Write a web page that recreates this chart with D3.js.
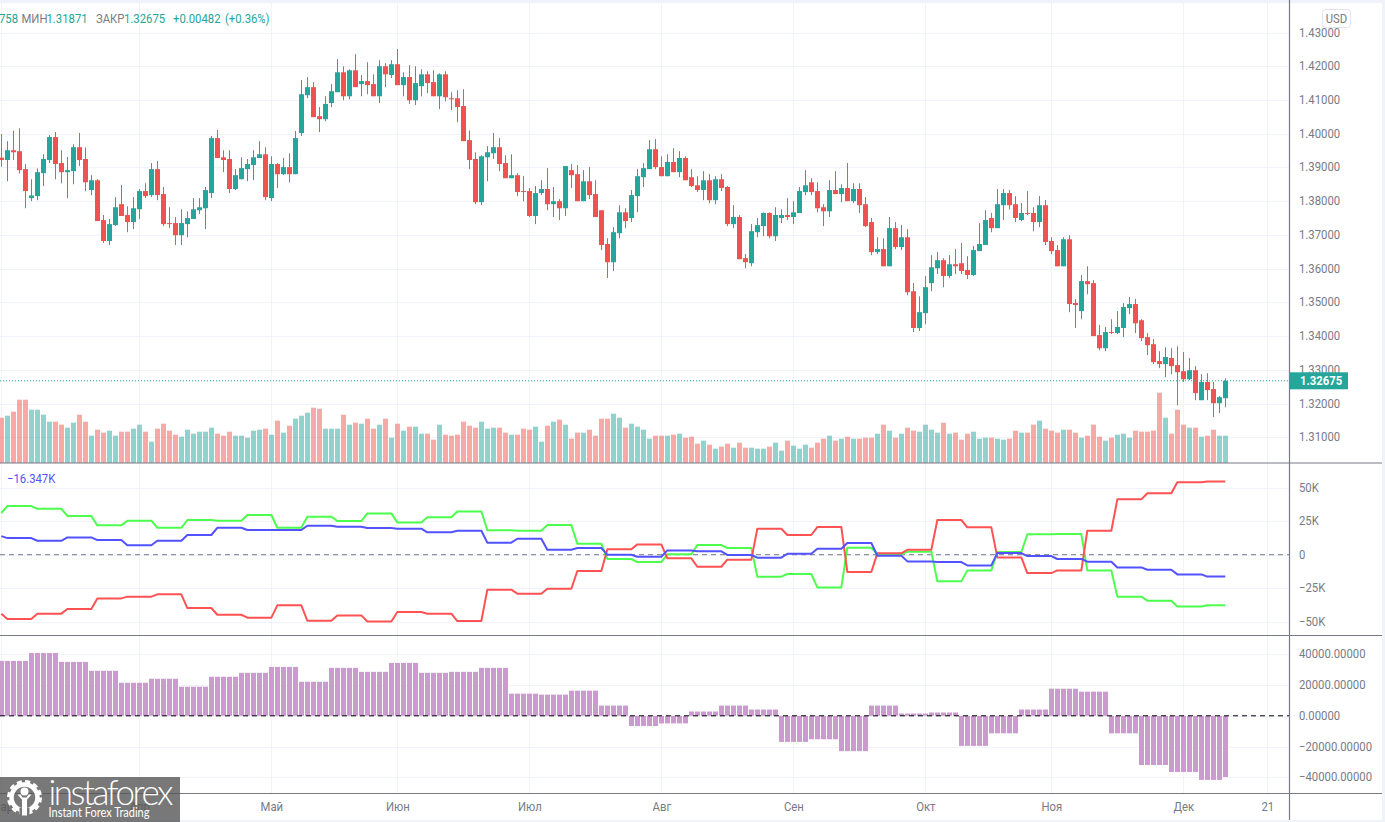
<!DOCTYPE html>
<meta charset="utf-8">
<style>
html, body { margin: 0; background: #fff; overflow: hidden; }
svg { display: block; }
text { font-family: Roboto, sans-serif; font-size: 13px; fill: #787b86; }
.axis .domain { display: none; }
.axis text { font-family: Roboto, sans-serif; font-size: 13px; fill: #787b86; }
.grid line { stroke: #f0f3fa; stroke-width: 1px; }
</style>
<svg width="1385" height="822"></svg>
<script src="https://d3js.org/d3.v7.min.js"></script>
<script>

// daily GBP/USD candles
var opens = [
1.3929,1.3922,1.3951,1.3948,1.3895,1.3809,1.3815,1.3883,1.3922,1.3990,
1.3913,1.3886,1.3889,1.3960,1.3925,1.3833,1.3862,1.3744,1.3682,1.3729,
1.3791,1.3759,1.3738,1.3776,1.3830,1.3818,1.3895,1.3821,1.3735,1.3735,
1.3699,1.3732,1.3747,1.3773,1.3779,1.3824,1.3987,1.3930,1.3925,1.3836,
1.3865,1.3895,1.3907,1.3928,1.3939,1.3809,1.3910,1.3880,1.3901,1.3880,
1.4002,1.4114,1.4138,1.4052,1.4043,1.4091,1.4123,1.4182,1.4111,1.4188,
1.4147,1.4156,1.4147,1.4111,1.4200,1.4174,1.4206,1.4144,1.4168,1.4099,
1.4141,1.4176,1.4153,1.4111,1.4176,1.4105,1.4105,1.4082,1.3981,1.3925,
1.3797,1.3930,1.3942,1.3960,1.3913,1.3868,1.3877,1.3830,1.3830,1.3756,
1.3824,1.3836,1.3791,1.3800,1.3779,1.3892,1.3880,1.3800,1.3859,1.3821,
1.3773,1.3673,1.3619,1.3705,1.3767,1.3750,1.3815,1.3871,1.3895,1.3954,
1.3901,1.3874,1.3916,1.3886,1.3928,1.3871,1.3847,1.3833,1.3862,1.3803,
1.3865,1.3842,1.3732,1.3753,1.3631,1.3616,1.3708,1.3726,1.3765,1.3696,
1.3750,1.3759,1.3753,1.3765,1.3827,1.3856,1.3830,1.3782,1.3770,1.3833,
1.3821,1.3839,1.3800,1.3836,1.3791,1.3738,1.3649,1.3658,1.3607,1.3720,
1.3664,1.3693,1.3533,1.3424,1.3468,1.3557,1.3601,1.3625,1.3578,1.3613,
1.3616,1.3596,1.3581,1.3652,1.3670,1.3750,1.3720,1.3788,1.3824,1.3791,
1.3744,1.3765,1.3765,1.3738,1.3788,1.3682,1.3655,1.3607,1.3687,1.3498,
1.3474,1.3563,1.3557,1.3403,1.3364,1.3412,1.3409,1.3424,1.3483,1.3495,
1.3447,1.3397,1.3376,1.3326,1.3317,1.3335,1.3314,1.3296,1.3272,1.3299,
1.3210,1.3264,1.3243,1.3201,1.3216];

var closes = [
1.3922,1.3951,1.3945,1.3892,1.3830,1.3817,1.3886,1.3925,1.3990,1.3910,
1.3886,1.3892,1.3960,1.3922,1.3856,1.3862,1.3741,1.3682,1.3732,1.3782,
1.3756,1.3738,1.3779,1.3830,1.3815,1.3895,1.3818,1.3732,1.3732,1.3699,
1.3735,1.3750,1.3776,1.3782,1.3833,1.3987,1.3928,1.3922,1.3836,1.3877,
1.3898,1.3910,1.3930,1.3939,1.3812,1.3910,1.3880,1.3901,1.3880,1.3987,
1.4117,1.4138,1.4049,1.4043,1.4088,1.4126,1.4182,1.4111,1.4188,1.4138,
1.4156,1.4144,1.4111,1.4200,1.4176,1.4206,1.4144,1.4168,1.4099,1.4150,
1.4176,1.4150,1.4111,1.4176,1.4108,1.4102,1.4079,1.3978,1.3922,1.3797,
1.3933,1.3945,1.3960,1.3910,1.3868,1.3877,1.3827,1.3827,1.3756,1.3824,
1.3836,1.3791,1.3800,1.3779,1.3904,1.3877,1.3800,1.3859,1.3818,1.3753,
1.3670,1.3619,1.3708,1.3767,1.3741,1.3818,1.3874,1.3898,1.3954,1.3901,
1.3874,1.3916,1.3886,1.3928,1.3862,1.3845,1.3833,1.3862,1.3803,1.3865,
1.3839,1.3732,1.3753,1.3628,1.3619,1.3711,1.3729,1.3765,1.3696,1.3759,
1.3759,1.3753,1.3767,1.3830,1.3847,1.3827,1.3779,1.3770,1.3833,1.3821,
1.3839,1.3800,1.3836,1.3788,1.3726,1.3649,1.3658,1.3607,1.3720,1.3664,
1.3693,1.3530,1.3424,1.3471,1.3545,1.3604,1.3625,1.3578,1.3613,1.3607,
1.3593,1.3581,1.3655,1.3673,1.3744,1.3720,1.3791,1.3824,1.3788,1.3750,
1.3765,1.3762,1.3738,1.3788,1.3679,1.3652,1.3607,1.3687,1.3495,1.3492,
1.3563,1.3554,1.3400,1.3364,1.3412,1.3409,1.3427,1.3486,1.3495,1.3438,
1.3394,1.3373,1.3323,1.3317,1.3338,1.3311,1.3293,1.3272,1.3299,1.3231,
1.3264,1.3240,1.3201,1.3219,1.32675];

var highs = [
1.3999,1.3978,1.4009,1.4016,1.3910,1.3865,1.3897,1.3939,1.3996,1.4005,
1.3951,1.3931,1.3969,1.4002,1.3959,1.3877,1.3865,1.3759,1.3747,1.3812,
1.3848,1.3785,1.3812,1.3836,1.3853,1.3913,1.3919,1.3842,1.3782,1.3753,
1.3776,1.3770,1.3809,1.3809,1.3842,1.3993,1.4011,1.3951,1.3951,1.3895,
1.3930,1.3925,1.3951,1.3978,1.3960,1.3933,1.3913,1.3928,1.3942,1.4008,
1.4159,1.4168,1.4153,1.4079,1.4111,1.4147,1.4221,1.4200,1.4191,1.4236,
1.4174,1.4212,1.4176,1.4218,1.4209,1.4218,1.4251,1.4182,1.4203,1.4200,
1.4191,1.4185,1.4188,1.4179,1.4185,1.4123,1.4129,1.4132,1.4010,1.3945,
1.3936,1.3963,1.4002,1.3987,1.3936,1.3939,1.3883,1.3874,1.3839,1.3845,
1.3862,1.3898,1.3842,1.3806,1.3904,1.3910,1.3907,1.3892,1.3901,1.3862,
1.3773,1.3690,1.3723,1.3788,1.3779,1.3833,1.3895,1.3913,1.3981,1.3984,
1.3933,1.3939,1.3957,1.3948,1.3933,1.3895,1.3874,1.3889,1.3880,1.3874,
1.3880,1.3845,1.3788,1.3759,1.3643,1.3732,1.3750,1.3767,1.3767,1.3782,
1.3776,1.3809,1.3800,1.3842,1.3892,1.3868,1.3856,1.3791,1.3862,1.3889,
1.3850,1.3913,1.3853,1.3853,1.3812,1.3750,1.3693,1.3690,1.3753,1.3738,
1.3729,1.3717,1.3557,1.3518,1.3578,1.3640,1.3649,1.3631,1.3640,1.3658,
1.3676,1.3637,1.3667,1.3735,1.3773,1.3765,1.3836,1.3836,1.3833,1.3815,
1.3794,1.3830,1.3782,1.3815,1.3803,1.3693,1.3670,1.3693,1.3699,1.3510,
1.3581,1.3607,1.3566,1.3433,1.3427,1.3450,1.3474,1.3498,1.3516,1.3510,
1.3450,1.3409,1.3391,1.3355,1.3367,1.3364,1.3370,1.3353,1.3335,1.3311,
1.3287,1.3290,1.3264,1.3222,1.3275];

var lows = [
1.3902,1.3859,1.3922,1.3882,1.3779,1.3800,1.3803,1.3845,1.3913,1.3865,
1.3853,1.3809,1.3850,1.3904,1.3830,1.3818,1.3741,1.3676,1.3670,1.3726,
1.3756,1.3708,1.3717,1.3747,1.3809,1.3812,1.3803,1.3726,1.3720,1.3670,
1.3670,1.3693,1.3747,1.3762,1.3717,1.3809,1.3928,1.3886,1.3824,1.3833,
1.3865,1.3859,1.3862,1.3928,1.3803,1.3800,1.3839,1.3877,1.3856,1.3880,
1.3993,1.4105,1.4049,1.4005,1.4037,1.4079,1.4123,1.4099,1.4102,1.4138,
1.4111,1.4117,1.4111,1.4091,1.4138,1.4165,1.4144,1.4111,1.4088,1.4085,
1.4111,1.4120,1.4111,1.4073,1.4096,1.4070,1.4034,1.3978,1.3895,1.3791,
1.3788,1.3859,1.3925,1.3889,1.3868,1.3868,1.3815,1.3800,1.3753,1.3732,
1.3818,1.3773,1.3753,1.3744,1.3756,1.3839,1.3800,1.3800,1.3806,1.3753,
1.3655,1.3572,1.3593,1.3690,1.3720,1.3738,1.3767,1.3842,1.3895,1.3895,
1.3874,1.3874,1.3886,1.3871,1.3862,1.3842,1.3827,1.3803,1.3794,1.3791,
1.3830,1.3726,1.3720,1.3628,1.3601,1.3607,1.3693,1.3696,1.3690,1.3682,
1.3735,1.3744,1.3732,1.3765,1.3818,1.3818,1.3767,1.3726,1.3753,1.3821,
1.3797,1.3800,1.3794,1.3765,1.3723,1.3640,1.3643,1.3607,1.3607,1.3658,
1.3655,1.3521,1.3412,1.3415,1.3435,1.3533,1.3584,1.3545,1.3572,1.3584,
1.3584,1.3569,1.3578,1.3652,1.3670,1.3708,1.3720,1.3744,1.3776,1.3738,
1.3741,1.3759,1.3711,1.3723,1.3670,1.3643,1.3607,1.3607,1.3471,1.3424,
1.3450,1.3524,1.3400,1.3358,1.3355,1.3406,1.3406,1.3397,1.3465,1.3409,
1.3385,1.3344,1.3317,1.3305,1.3278,1.3287,1.3195,1.3264,1.3270,1.3210,
1.3210,1.3210,1.3160,1.3172,1.3189];

var volumes = [
136,142,154,190,190,160,160,145,124,124,115,106,121,145,124,82,100,91,97,82,
94,94,103,115,94,64,103,118,97,85,79,100,88,94,94,106,88,82,94,82,
82,76,97,100,103,85,127,91,112,133,142,151,166,163,103,103,103,145,115,121,
118,133,103,115,133,76,118,97,109,109,88,88,70,115,85,82,85,124,112,106,
124,103,106,106,91,85,85,103,100,109,64,112,124,130,115,73,91,91,100,82,
133,133,148,136,106,118,109,100,73,82,82,82,85,88,76,79,58,67,55,43,
49,58,46,61,46,46,43,43,49,61,37,67,52,43,55,46,61,73,82,67,
73,79,73,73,76,76,88,115,97,76,88,106,97,94,115,100,91,121,88,91,
70,88,94,73,76,76,73,70,73,97,91,91,115,127,103,97,91,100,100,91,
76,82,115,79,67,76,85,88,76,97,94,94,97,211,136,88,160,115,106,106,
79,82,100,82,82];

// weekly COT positions in thousands, one level per report
var commercials = [
-44,-48,-44,-40.5,-32.6,-31.3,-29.6,-39.8,-44.8,-47,-37.8,-49.3,-45.3,-49.8,
-42.8,-44,-49.5,-26.1,-29.1,-25.4,-12.2,4,7.7,-2.7,-9,-3.7,19.4,14.7,
20.6,-12.9,1,3.7,25.9,20.4,-2,-13.7,-11.7,17.9,41.3,45.8,54,54.7];
var nonCommercials = [
31.1,36.3,34.3,28.9,21.9,25.4,20.1,25.9,25.4,29.6,20.1,28.4,25.1,30.8,
24.1,27.9,32.3,18.2,17.9,22.1,8.2,-3.2,-5.5,0.3,7.2,5,-16.4,-14.4,
-24.4,5.2,0.5,2.2,-19.9,-11.7,2,15.2,15.4,-11.7,-31.3,-34.3,-38.6,-37.8];
var smallTraders = [
13.9,12.4,10.4,12.9,10.9,7,10.4,14.7,20.1,18.4,18.4,21.6,20.9,19.9,
19.4,16.7,17.9,9,11.9,3.7,5,0,-1.5,3.2,2.5,-0.2,-2.2,0.7,
4.5,8.7,-0.7,-5,-5.5,-8,1.2,-1,-3.2,-5.2,-9.5,-11.2,-14.7,-16.347];

// weekly net position change, the last entry is the newest bar alone
var netChange = [
35700,40860,35050,29250,21500,24090,18900,25400,27960,31800,22150,31180,28600,34400,
27960,28600,31180,14400,13760,16340,6670,-6670,-4950,2800,6670,4090,-17000,-15270,
-23000,6670,1500,2150,-19570,-11400,4090,17630,15700,-11400,-32000,-36560,-41700,-39800];

var priceTicks = [1.43,1.42,1.41,1.40,1.39,1.38,1.37,1.36,1.35,1.34,1.33,1.32,1.31];
var cotTicks = [50,25,0,-25,-50];
var netTicks = [40000,20000,0,-20000,-40000];
var monthBars = [0,23,45,66,88,110,132,154,175,197,211];
var monthNames = ["Мар","Апр","Май","Июн","Июл","Авг","Сен","Окт","Ноя","Дек","21"];

var green = "#26a69a", red = "#ef5350";

var svg = d3.select("svg");

var x = d3.scaleLinear().domain([0,211]).range([1.33,1267.33]);
var yPrice = d3.scaleLinear().domain([1.31,1.43]).range([437.3,32.5]);
var yVol = d3.scaleLinear().domain([0,211]).range([463,392.7]);
var yCot = d3.scaleLinear().domain([-50,50]).range([621.7,487.7]);
var yNet = d3.scaleLinear().domain([-40000,40000]).range([777.3,654.3]);

// bars sit on whole pixels, as in the original chart
function barLeft(i) { return Math.floor(x(i))-2; }

// the picture is a little squeezed sideways, so the text has to be too
function squeeze(sel, k) {
  sel.each(function() {
    this.setAttribute("textLength", this.getComputedTextLength()*k);
    this.setAttribute("lengthAdjust", "spacingAndGlyphs");
  });
}

// outer frame
svg.append("rect").attr("x",0).attr("y",0).attr("width",1385).attr("height",3).attr("fill","#f0f3fa");
svg.append("rect").attr("x",0).attr("y",820).attr("width",1385).attr("height",2).attr("fill","#f0f3fa");
svg.append("rect").attr("x",1382).attr("y",0).attr("width",3).attr("height",822).attr("fill","#f0f3fa");

// grid
var grid = svg.append("g").attr("class","grid");
grid.selectAll(".v").data(monthBars).enter().append("line")
    .attr("x1",function(d){return Math.floor(x(d))+0.5;})
    .attr("x2",function(d){return Math.floor(x(d))+0.5;})
    .attr("y1",3).attr("y2",793);
grid.selectAll(".p").data(priceTicks).enter().append("line")
    .attr("x1",0).attr("x2",1289)
    .attr("y1",function(d){return Math.round(yPrice(d))+0.5;})
    .attr("y2",function(d){return Math.round(yPrice(d))+0.5;});
grid.selectAll(".c").data(cotTicks).enter().append("line")
    .attr("x1",0).attr("x2",1289)
    .attr("y1",function(d){return Math.round(yCot(d))+0.5;})
    .attr("y2",function(d){return Math.round(yCot(d))+0.5;});
grid.selectAll(".n").data(netTicks).enter().append("line")
    .attr("x1",0).attr("x2",1289)
    .attr("y1",function(d){return Math.round(yNet(d))+0.5;})
    .attr("y2",function(d){return Math.round(yNet(d))+0.5;});

var bars = d3.range(opens.length);

// volume
svg.append("g").selectAll("rect").data(bars).enter().append("rect")
    .attr("x",barLeft)
    .attr("width",5)
    .attr("y",function(i){return yVol(volumes[i]);})
    .attr("height",function(i){return yVol(0)-yVol(volumes[i]);})
    .attr("fill",function(i){return closes[i]>=opens[i] ? green : red;})
    .attr("fill-opacity",0.5);

// candles
var candle = svg.append("g").selectAll("g").data(bars).enter().append("g")
    .attr("fill",function(i){return closes[i]>=opens[i] ? green : red;});
candle.append("rect")
    .attr("x",function(i){return Math.floor(x(i));})
    .attr("width",1)
    .attr("y",function(i){return yPrice(highs[i]);})
    .attr("height",function(i){return yPrice(lows[i])-yPrice(highs[i]);});
candle.append("rect")
    .attr("x",barLeft)
    .attr("width",5)
    .attr("y",function(i){return yPrice(Math.max(opens[i],closes[i]));})
    .attr("height",function(i){return Math.max(1,Math.abs(yPrice(opens[i])-yPrice(closes[i])));});

// last price line
var lastClose = closes[closes.length-1];
svg.append("line")
    .attr("x1",0).attr("x2",1289)
    .attr("y1",yPrice(lastClose)).attr("y2",yPrice(lastClose))
    .attr("stroke",green).attr("stroke-width",1).attr("stroke-dasharray","1 2");

// COT pane
svg.append("line").attr("x1",0).attr("x2",1289)
    .attr("y1",yCot(0)).attr("y2",yCot(0))
    .attr("stroke","#787b86").attr("stroke-width",1).attr("stroke-dasharray","5 4");
var cotLine = function(levels) {
  return d3.line()
    .x(function(i){return x(i);})
    .y(function(i){return yCot(levels[Math.ceil(i/5)]);})(bars);
};
[[nonCommercials,"#4dff4d"],[commercials,"#ff5252"],[smallTraders,"#5252ff"]].forEach(function(s) {
  svg.append("path").attr("d",cotLine(s[0]))
      .attr("fill","none").attr("stroke",s[1]).attr("stroke-width",2)
      .attr("stroke-linejoin","round");
});
svg.append("text").attr("x",7).attr("y",483).style("fill","#5252ff")
    .text("\u221216.347K").call(squeeze,0.87);

// net change pane
svg.append("g").selectAll("rect").data(bars).enter().append("rect")
    .attr("x",barLeft)
    .attr("width",5)
    .attr("y",function(i){return yNet(Math.max(0,netChange[i==204 ? 41 : Math.floor(i/5)]));})
    .attr("height",function(i){return Math.abs(yNet(netChange[i==204 ? 41 : Math.floor(i/5)])-yNet(0));})
    .attr("fill","#cb9bcf");
svg.append("line").attr("x1",0).attr("x2",1289)
    .attr("y1",yNet(0)).attr("y2",yNet(0))
    .attr("stroke","#000").attr("stroke-width",1).attr("stroke-dasharray","5 4");

// axes
var axisPrice = svg.append("g").attr("class","axis").attr("transform","translate(1289,0)")
    .call(d3.axisRight(yPrice).tickValues(priceTicks).tickFormat(d3.format(".5f")).tickSize(0).tickPadding(10));
var axisCot = svg.append("g").attr("class","axis").attr("transform","translate(1289,0)")
    .call(d3.axisRight(yCot).tickValues(cotTicks).tickFormat(function(d){return d==0 ? "0" : d3.format("d")(d)+"K";}).tickSize(0).tickPadding(10));
var axisNet = svg.append("g").attr("class","axis").attr("transform","translate(1289,0)")
    .call(d3.axisRight(yNet).tickValues(netTicks).tickFormat(d3.format(".5f")).tickSize(0).tickPadding(10));
var axisTime = svg.append("g").attr("class","axis").attr("transform","translate(0,793)")
    .call(d3.axisBottom(x).tickValues(monthBars).tickFormat(function(d,i){return monthNames[i];}).tickSize(0).tickPadding(9));
[axisPrice,axisCot,axisNet].forEach(function(a){ a.selectAll("text").attr("dy","0.27em"); });
[axisPrice,axisCot,axisNet,axisTime].forEach(function(a){ a.selectAll("text").call(squeeze,0.87); });

// pane borders
[[0,1382,463,463],[0,1382,635.5,635.5],[0,1382,793.5,793.5],[1289.5,1289.5,0,820]].forEach(function(l) {
  svg.append("line").attr("x1",l[0]).attr("x2",l[1]).attr("y1",l[2]).attr("y2",l[3])
      .attr("stroke","#787b86").attr("stroke-width",1.2);
});

// price tag
svg.append("rect").attr("x",1289).attr("y",yPrice(lastClose)-8.5).attr("width",59).attr("height",17).attr("fill",green);
svg.append("text").attr("x",1300).attr("y",yPrice(lastClose)+4.5)
    .style("fill","#fff").style("font-weight","700")
    .text(d3.format(".5f")(lastClose)).call(squeeze,0.87);

// currency badge
svg.append("rect").attr("x",1322.5).attr("y",9.5).attr("width",28).attr("height",18).attr("rx",3)
    .attr("fill","#fff").attr("stroke","#e0e3eb");
svg.append("text").attr("x",1336.5).attr("y",23).attr("text-anchor","middle").text("USD").call(squeeze,0.87);

// legend
var legend = [
  [-1,"758",green],[21.5,"МИН","#787b86"],[46.5,"1.31871",green],
  [96,"ЗАКР","#787b86"],[124,"1.32675",green],[173,"+0.00482",green],[225,"(+0.36%)",green]
];
legend.forEach(function(l) {
  svg.append("text").attr("x",l[0]).attr("y",22.5).style("fill",l[2]).text(l[1]).call(squeeze,0.87);
});

// logo, see-through so the axis labels show under it
var logo = svg.append("g");
logo.append("rect").attr("x",0).attr("y",777).attr("width",180).attr("height",45)
    .attr("fill","#565656").attr("fill-opacity",0.8);
var gear = logo.append("g").attr("transform","translate(24.5,797.5)");
gear.append("circle").attr("r",13).attr("fill","none").attr("stroke","#fff").attr("stroke-width",4.5);
gear.append("circle").attr("r",16).attr("fill","none").attr("stroke","#fff").attr("stroke-width",3).attr("stroke-dasharray","5 3.4");
gear.append("rect").attr("x",-5).attr("y",10).attr("width",10).attr("height",9).attr("fill","#777");
gear.append("circle").attr("cy",-6).attr("r",4).attr("fill","#fff");
gear.append("path").attr("d","M-7,-3L0,5L7,-3L4,-3L2,0L-2,0L-4,-3Z").attr("fill","#fff");
gear.append("rect").attr("x",-2.5).attr("y",2).attr("width",5).attr("height",16).attr("fill","#fff");
logo.append("text").attr("x",48.5).attr("y",805).style("fill","#fff").style("font-family","Lato, sans-serif")
    .style("font-weight","300").style("font-size","35px").text("instaforex")
    .attr("textLength",125).attr("lengthAdjust","spacing");
logo.append("text").attr("x",48.5).attr("y",817).style("fill","#fff").style("font-family","Lato, sans-serif")
    .style("font-size","12.5px").text("Instant Forex Trading")
    .attr("textLength",101).attr("lengthAdjust","spacingAndGlyphs");

</script>
